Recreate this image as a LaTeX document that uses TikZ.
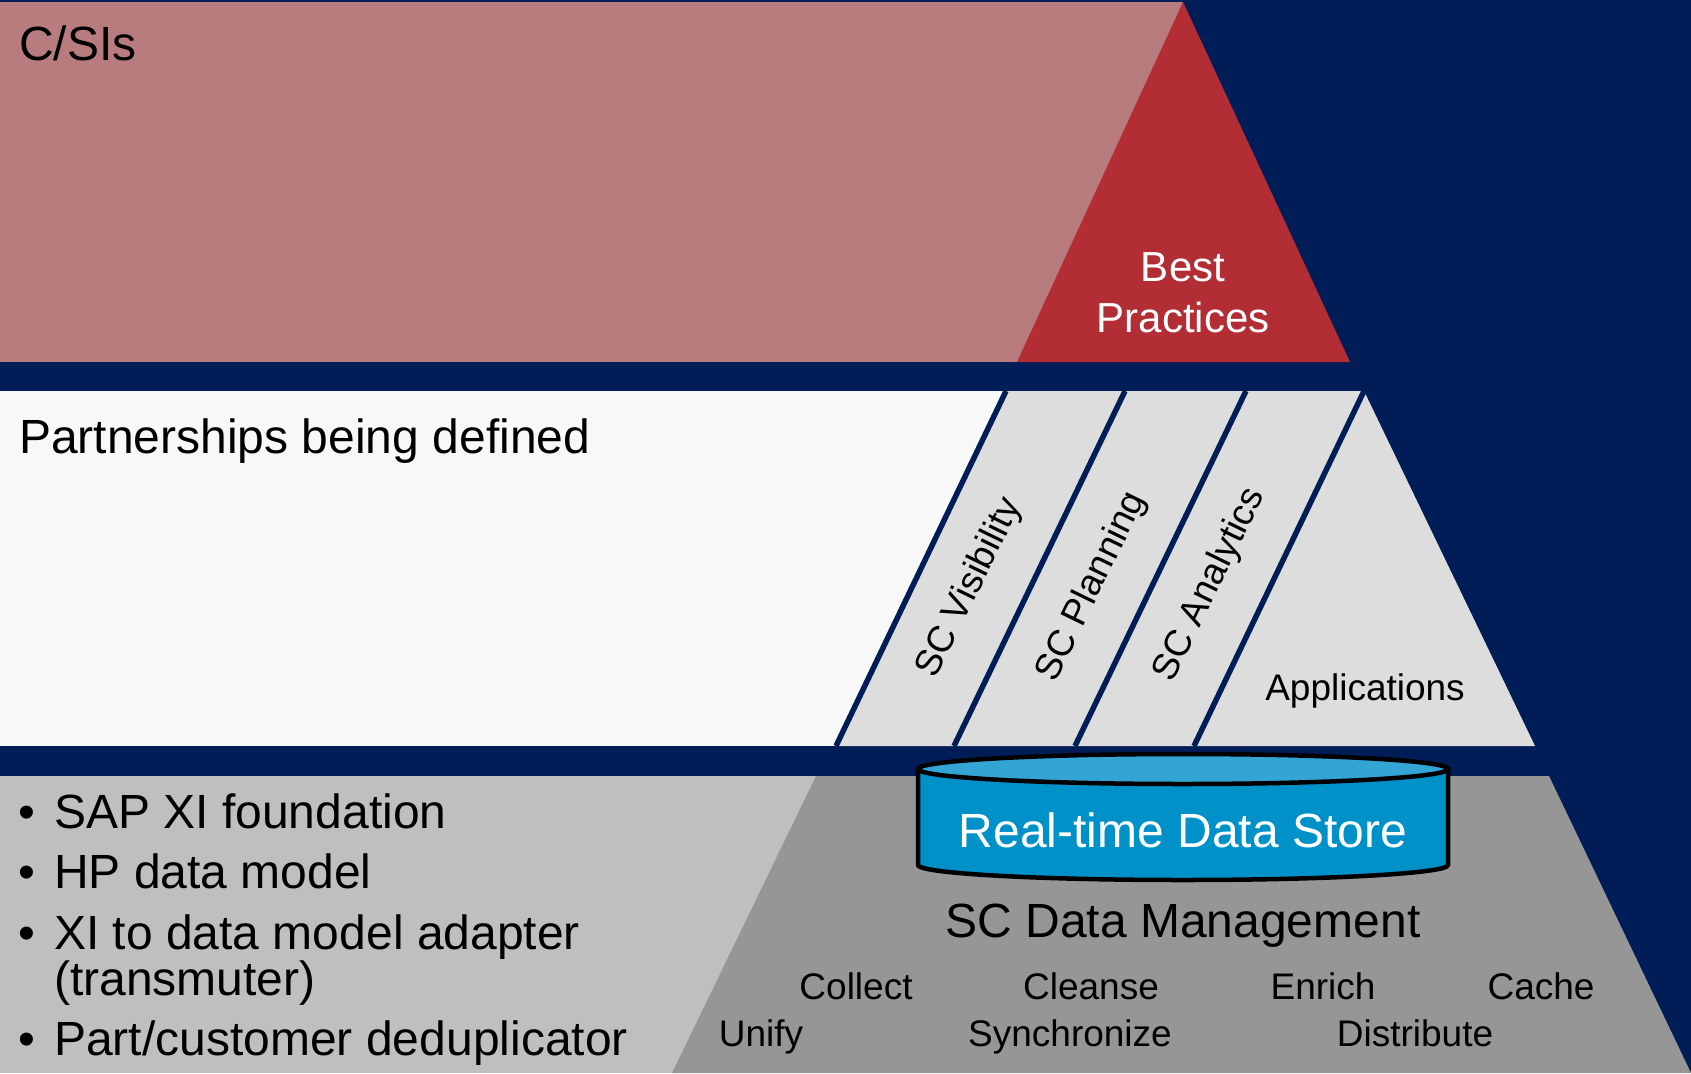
\documentclass[tikz,border=0pt]{standalone}
\usepackage{fontspec}
\setmainfont{Liberation Sans}
\usepackage{tikz}

\definecolor{navy}{RGB}{0,29,87}
\definecolor{rose}{RGB}{184,124,126}
\definecolor{brick}{RGB}{179,45,53}
\definecolor{paper}{RGB}{248,248,248}
\definecolor{appgray}{RGB}{221,221,221}
\definecolor{lowgray}{RGB}{191,191,191}
\definecolor{dmgray}{RGB}{150,150,150}
\definecolor{storeblue}{RGB}{0,145,200}
\definecolor{storetop}{RGB}{51,165,212}

\begin{document}
\begin{tikzpicture}[x=1pt,y=-1pt,
  big/.style={font=\fontsize{48}{52}\selectfont,inner sep=0pt},
  mid/.style={font=\fontsize{37}{40}\selectfont,inner sep=0pt}]

\useasboundingbox (0,0) rectangle (1691,1073);
\fill[navy] (0,0) rectangle (1691,1073);

\fill[rose] (0,2) rectangle (1183,362);
\fill[brick] (1183,2)--(1350,362)--(1017,362)--cycle;
\fill[paper] (0,391) rectangle (1006,746);
\fill[appgray] (1006,391)--(1364,391)--(1535,746)--(836,746)--cycle;
\fill[lowgray] (0,776) rectangle (816,1073);
\fill[dmgray] (816,776)--(1549,776)--(1691,1073)--(672,1073)--cycle;

\foreach \t/\b in {1006/836,1125/954,1246/1075,1364/1194}
  \draw[navy,line width=5.5] (\t,391)--(\b,746);

\filldraw[fill=storeblue,draw=black,line width=4.5pt] (918,769)--(918,865)
  arc[start angle=180,end angle=360,x radius=265pt,y radius=15pt]--(1448,769)--cycle;
\filldraw[fill=storetop,draw=black,line width=4.5pt] (1183,769) ellipse[x radius=265,y radius=15];

\node[big,anchor=base west] (csis) at (19,61) {C/SIs};
\node[font=\fontsize{42}{50}\selectfont,text=white,anchor=base] (best) at (1183,281) {Best};
\node[font=\fontsize{42}{50}\selectfont,text=white,anchor=base] (practices) at (1183,332) {Practices};

\node[big,anchor=base west] (partners) at (19,453) {Partnerships being defined};
\node[mid,rotate=64] (vis) at (970,588) {SC Visibility};
\node[mid,rotate=64] (plan) at (1092,587) {SC Planning};
\node[mid,rotate=64] (anal) at (1210,585) {SC Analytics};
\node[mid,anchor=base] (apps) at (1365,700) {Applications};

\node[big,anchor=base west] (b1) at (18,828) {\makebox[36pt][l]{•}SAP XI foundation};
\node[big,anchor=base west] (b2) at (18,888) {\makebox[36pt][l]{•}HP data model};
\node[big,anchor=base west] (b3) at (18,949) {\makebox[36pt][l]{•}XI to data model adapter};
\node[big,anchor=base west] (b3b) at (54,995) {(transmuter)};
\node[big,anchor=base west] (b4) at (18,1055) {\makebox[36pt][l]{•}Part/customer deduplicator};

\node[font=\fontsize{48}{52}\selectfont,text=white,anchor=base] (store) at (1183,847) {Real-time Data Store};
\node[font=\fontsize{48}{52}\selectfont,anchor=base] (dm) at (1183,937) {SC Data Management};
\foreach \w/\x/\y [count=\i] in {Collect/856/999,Cleanse/1091/999,Enrich/1323/999,Cache/1541/999,
    Unify/761/1046,Synchronize/1070/1046,Distribute/1415/1046}
  \node[mid,anchor=base] (op\i) at (\x,\y) {\w};

\end{tikzpicture}
\end{document}
